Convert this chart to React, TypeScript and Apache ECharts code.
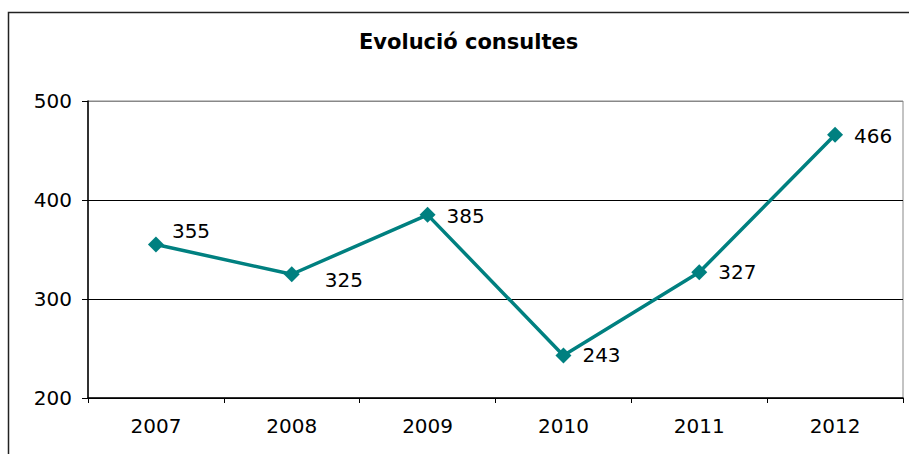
import React, { useEffect, useRef } from "react";
import * as echarts from "echarts";

const categories = ["2007", "2008", "2009", "2010", "2011", "2012"];
const values = [355, 325, 385, 243, 327, 466];
const labelOffsets: [number, number][] = [[-3, -14], [14, 6], [0, 1], [0, 0], [0, 0], [0, 1]];
const titleText = "Evolució consultes";

export default function App() {
  const ref = useRef<HTMLDivElement>(null);
  useEffect(() => {
    document.body.style.margin = "0";
    const chart = echarts.init(ref.current!, null, { renderer: "svg" });
    const font = "DejaVu Sans, Verdana, sans-serif";
    chart.setOption({
      animation: false,
      backgroundColor: "#fff",
      textStyle: { fontFamily: font },
      title: {
        text: titleText,
        left: 354,
        top: 26,
        textStyle: { fontFamily: font, fontSize: 21, fontWeight: "bold", color: "#000" },
      },
      graphic: [
        {
          type: "rect",
          shape: { x: 8.5, y: 12.5, width: 960, height: 500 },
          style: { fill: "none", stroke: "#222", lineWidth: 1.5 },
          silent: true,
        },
      ],
      grid: { left: 88, top: 101, right: 6, bottom: 56, show: true, borderColor: "#888", borderWidth: 1 },
      xAxis: {
        type: "category",
        data: categories,
        boundaryGap: true,
        axisLine: { lineStyle: { color: "#000", width: 1.5 } },
        axisTick: { show: true, length: 5, lineStyle: { color: "#000" } },
        axisLabel: { color: "#000", fontSize: 20, margin: 18, fontFamily: font },
      },
      yAxis: {
        type: "value",
        min: 200,
        max: 500,
        interval: 100,
        axisLine: { show: true, lineStyle: { color: "#000", width: 1.5 } },
        axisTick: { show: true, length: 6, lineStyle: { color: "#000" } },
        axisLabel: { color: "#000", fontSize: 20, margin: 16, fontFamily: font },
        splitLine: { show: true, lineStyle: { color: ["#000", "#000", "#000", "#888"], width: 1 } },
      },
      series: [
        {
          type: "line",
          data: values.map((v, i) => ({
            value: v,
            label: { offset: labelOffsets[i] },
          })),
          symbol: "diamond",
          symbolSize: 16,
          lineStyle: { color: "#008080", width: 3.5 },
          itemStyle: { color: "#008080" },
          label: {
            show: true,
            position: "right",
            distance: 11,
            color: "#000",
            fontSize: 20,
            fontFamily: font,
          },
        },
      ],
    });
    return () => chart.dispose();
  }, []);
  return <div ref={ref} style={{ width: 909, height: 454 }} />;
}
